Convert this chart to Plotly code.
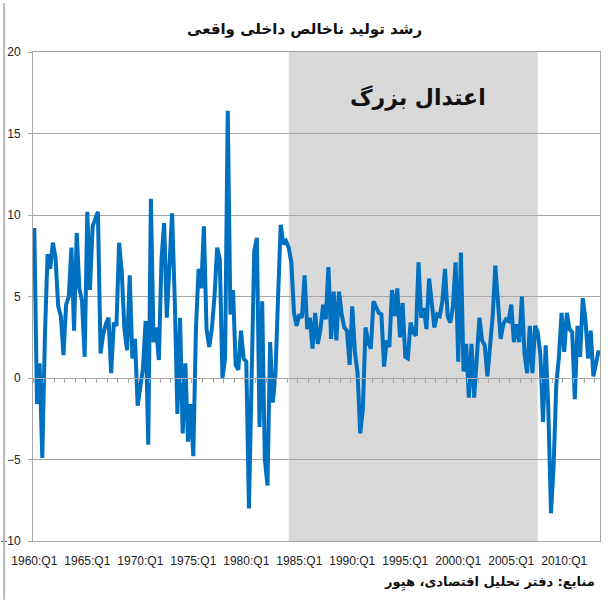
import plotly.graph_objects as go

# real GDP growth, quarterly, annualized (%)
years = list(range(1960, 2014))
growth = [
    9.2, -1.6, 0.9, -4.9,     # 1960
    2.6, 7.6, 6.7, 8.3,       # 1961
    7.4, 4.4, 3.8, 1.4,       # 1962
    4.5, 5.0, 8.0, 2.9,       # 1963
    8.9, 5.5, 4.7, 1.3,       # 1964
    10.2, 5.4, 9.3, 9.8,      # 1965
    10.2, 1.5, 2.7, 3.3,      # 1966
    3.7, 0.3, 3.4, 3.2,       # 1967
    8.3, 6.5, 3.0, 1.7,       # 1968
    6.3, 1.2, 2.4, -1.7,      # 1969
    -0.4, 0.6, 3.5, -4.1,     # 1970
    11.0, 2.2, 3.1, 1.1,      # 1971
    7.3, 9.5, 3.7, 6.9,       # 1972
    10.1, 4.8, -2.2, 3.7,     # 1973
    -3.4, 0.9, -3.9, -1.6,    # 1974
    -4.8, 3.1, 6.7, 5.5,      # 1975
    9.3, 3.0, 1.9, 3.0,       # 1976
    5.0, 8.0, 7.3, 0.0,       # 1977
    1.2, 16.4, 3.9, 5.4,      # 1978
    0.8, 0.5, 2.9, 1.2,       # 1979
    1.0, -8.0, -0.4, 7.8,     # 1980
    8.6, -3.0, 4.7, -5.0,     # 1981
    -6.6, 2.2, -1.5, 0.2,     # 1982
    5.0, 9.4, 8.2, 8.4,       # 1983
    8.0, 7.1, 4.0, 3.2,       # 1984
    3.9, 3.7, 6.3, 3.0,       # 1985
    3.7, 1.8, 4.0, 2.1,       # 1986
    3.0, 4.5, 3.6, 6.8,       # 1987
    2.4, 5.3, 2.3, 5.3,       # 1988
    3.9, 3.1, 2.9, 0.8,       # 1989
    4.4, 1.6, 0.3, -3.4,      # 1990
    -1.9, 3.1, 2.2, 1.8,      # 1991
    4.7, 4.3, 4.0, 3.9,       # 1992
    0.7, 2.3, 1.9, 5.4,       # 1993
    3.8, 5.5, 2.5, 4.6,       # 1994
    1.3, 1.2, 3.4, 2.8,       # 1995
    2.6, 7.1, 3.7, 4.3,       # 1996
    3.0, 6.1, 4.8, 3.1,       # 1997
    3.9, 3.8, 4.7, 6.7,       # 1998
    3.8, 3.4, 4.4, 7.1,       # 1999
    1.0, 7.7, 0.4, 2.1,       # 2000
    -1.2, 2.1, -1.2, 1.1,     # 2001
    3.7, 2.3, 2.0, 0.1,       # 2002
    2.1, 3.8, 6.9, 4.8,       # 2003
    2.4, 3.3, 3.6, 3.5,       # 2004
    4.5, 2.2, 3.3, 2.2,       # 2005
    5.0, 1.5, 0.3, 3.2,       # 2006
    0.3, 3.2, 2.8, 1.4,       # 2007
    -2.7, 2.0, -1.9, -8.3,    # 2008
    -5.4, -0.4, 1.3, 4.0,     # 2009
    1.6, 4.0, 3.0, 2.8,       # 2010
    -1.3, 3.2, 1.3, 4.9,      # 2011
    3.6, 1.2, 2.9, 0.1,       # 2012
    1.0, 1.7,                 # 2013
]
quarters = ["%d:Q%d" % (y, q) for y in years for q in range(1, 5)][:len(growth)]
tick_labels = quarters[::20]
moderation_start, moderation_end = "1984:Q1", "2007:Q3"

title = "رشد تولید ناخالص داخلی واقعی"
band_label = "اعتدال بزرگ"
source = "منابع: دفتر تحلیل اقتصادی، هیِور"

grey = "#A6A6A6"
n = len(quarters)

fig = go.Figure()
fig.add_trace(go.Scatter(x=quarters, y=growth, mode="lines",
                         line=dict(color="#0070C0", width=4),
                         showlegend=False))
# dummy trace so the axis at y=0 gets drawn
fig.add_trace(go.Scatter(x=[0], y=[None], xaxis="x2", showlegend=False, hoverinfo="skip"))

# shaded "great moderation" period
fig.add_shape(type="rect", xref="x", yref="paper",
              x0=quarters.index(moderation_start), x1=quarters.index(moderation_end),
              y0=0, y1=1, fillcolor="#D9D9D9", line_width=0, layer="between")
# thin frame line at the left edge of the chart
fig.add_shape(type="line", xref="paper", yref="paper", x0=-0.051, x1=-0.051,
              y0=-0.12, y1=1.10, layer="above", line=dict(color="#B8B8B8", width=2))

fig.add_annotation(x=0.679, y=0.905, xref="paper", yref="paper",
                   xanchor="center", yanchor="middle",
                   text="<b>%s</b>" % band_label, showarrow=False,
                   font=dict(family="DejaVu Sans", size=22, color="#111"))
fig.add_annotation(x=0.478, y=1.048, xref="paper", yref="paper",
                   xanchor="center", yanchor="middle",
                   text="<b>%s</b>" % title, showarrow=False,
                   font=dict(family="DejaVu Sans", size=15, color="#111"))
fig.add_annotation(x=0.994, y=-0.084, xref="paper", yref="paper", xanchor="right",
                   yanchor="middle", text="<b>%s</b>" % source, showarrow=False,
                   font=dict(family="DejaVu Sans", size=13, color="#111"))

fig.update_layout(
    width=611, height=600,
    margin=dict(l=33, r=11, t=52, b=59, autoexpand=False),
    paper_bgcolor="white", plot_bgcolor="white",
    font=dict(family="Liberation Sans", size=12, color="#222"),
    xaxis=dict(type="category", range=[-0.5, n - 0.5], tickmode="array",
               tickvals=tick_labels, ticktext=tick_labels, showgrid=False,
               ticks="", ticklabelstandoff=9, showline=True, linecolor=grey,
               mirror=True, tickangle=0, automargin=False),
    xaxis2=dict(overlaying="x", anchor="free", position=1 / 3, range=[-0.5, n - 0.5],
                tick0=-0.5, dtick=4, ticks="outside", ticklen=4, tickcolor=grey,
                showticklabels=False, showgrid=False, showline=True, linecolor=grey,
                zeroline=False, automargin=False),
    yaxis=dict(range=[-10, 20], dtick=5, showgrid=True, gridcolor=grey, gridwidth=1,
               zeroline=False, ticks="outside", ticklen=4, tickcolor=grey,
               ticklabelstandoff=5, showline=True, linecolor=grey, mirror=True,
               automargin=False),
)

# drop the page's default body margin so the figure fills the window
fig.write_html("out.html", config={"displayModeBar": False},
               post_script="document.body.style.margin='0';")
